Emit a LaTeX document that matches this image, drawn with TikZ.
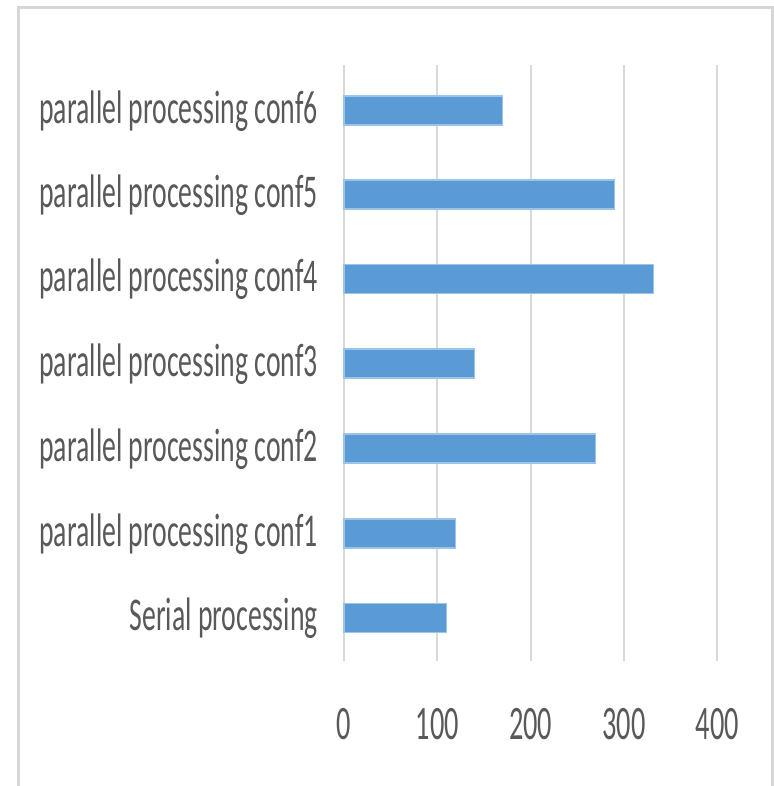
\documentclass[tikz,border=0pt]{standalone}
\usepackage{fontspec}
\setmainfont{Carlito}
\usepackage{graphicx}
\definecolor{barblue}{HTML}{5B9BD5}
\definecolor{baredge}{HTML}{9CC3E8}
\definecolor{gridgray}{HTML}{D9D9D9}
\definecolor{framegray}{HTML}{D6D6D6}
\definecolor{labelgray}{HTML}{595959}
\tikzset{
  gridline/.style={draw=gridgray, line width=1.4pt},
  bar/.style={fill=barblue, draw=baredge, line width=0.8pt},
  catlabel/.style={anchor=base east, inner sep=0pt, text=labelgray,
    font=\fontsize{35.25}{40}\selectfont},
  ticklabel/.style={anchor=base, inner sep=0pt, text=labelgray,
    font=\fontsize{36}{40}\selectfont},
  frameline/.style={draw=framegray, line width=2.6pt}
}
% squeeze text horizontally
\newcommand{\narrow}[1]{\scalebox{0.59}[1]{#1}}
\begin{document}
\begin{tikzpicture}[x=0.75pt, y=-0.75pt]
  \useasboundingbox (0,0) rectangle (774,786);
  % outer frame
  \draw[frameline] (18.5,786) -- (18.5,7.5) -- (772.5,7.5) -- (772.5,786);
  % vertical gridlines at 0,100,...,400
  \foreach \v/\n in {0/g0,100/g1,200/g2,300/g3,400/g4}{
    \coordinate (\n top) at ({344+0.933*\v},65);
    \coordinate (\n bot) at ({344+0.933*\v},661);
    \draw[gridline] (\n top) -- (\n bot);
    \node[ticklabel] (\n lab) at ({344+0.933*\v},739) {\narrow{\v}};
  }
  % bars with category labels
  \foreach \c/\val/\txt/\n in {
      110.5/170/parallel processing conf6/b6,
      194.5/290/parallel processing conf5/b5,
      279/332/parallel processing conf4/b4,
      363.5/140/parallel processing conf3/b3,
      448.5/270/parallel processing conf2/b2,
      533.5/120/parallel processing conf1/b1,
      618/110/Serial processing/b0}{
    \path[bar] (344,{\c-14.5}) rectangle ({344+0.933*\val},{\c+14.5});
    \node[catlabel] (\n lab) at (318,{\c+12.5}) {\narrow{\txt}};
  }
\end{tikzpicture}
\end{document}
